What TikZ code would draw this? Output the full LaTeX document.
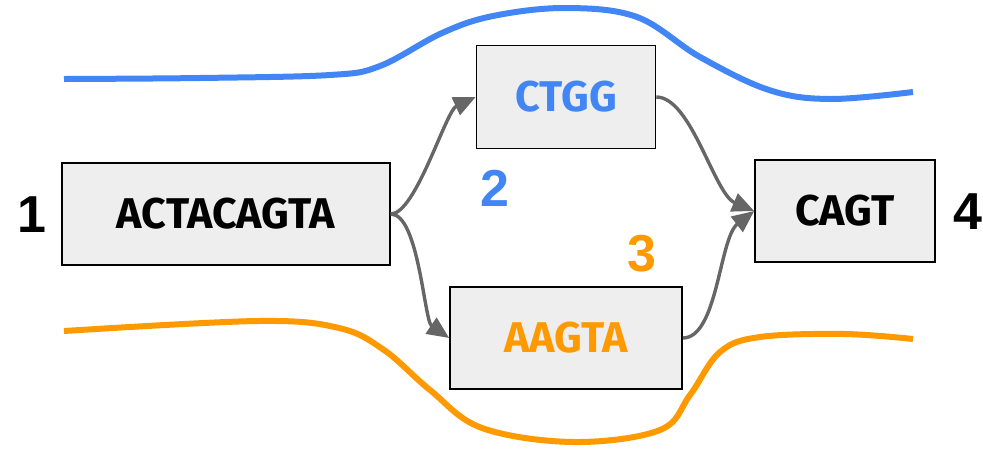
\documentclass[tikz,border=0pt]{standalone}
\usepackage{fontspec}
\setmainfont{Fira Sans}
\newfontfamily\numfont{Liberation Sans}
\usetikzlibrary{arrows.meta}
\definecolor{gblue}{HTML}{4285F4}
\definecolor{gorange}{HTML}{FF9900}
\definecolor{boxgray}{HTML}{EEEEEE}
\definecolor{arrowgray}{HTML}{666666}
\tikzset{
  seqbox/.style={draw=black, line width=1.6pt, fill=boxgray, inner sep=0pt,
    font=\fontsize{43}{48}\selectfont\bfseries},
  numlabel/.style={font=\fontsize{52}{56}\selectfont\numfont\bfseries, inner sep=0pt},
  conn/.style={draw=arrowgray, line width=3.4pt, -{Triangle[length=22pt,width=19pt]}},
  wave/.style={line width=6pt, line cap=butt}
}
\begin{document}
\begin{tikzpicture}[x=1pt,y=-1pt]
\useasboundingbox (0,0) rectangle (983,448);
% curves
\draw[wave, draw=gblue] plot[smooth, tension=0.6] coordinates {(64,79) (200,78) (330,75) (380,66) (442,33) (493,16) (565,8) (637,17) (700,57) (769,90) (830,99) (913,92)};
\draw[wave, draw=gorange] plot[smooth, tension=0.6] coordinates {(64,331) (258,321) (339,328) (384,350) (430,390) (482,428) (574,442) (660,430) (690,395) (720,352) (760,337) (844,334) (913,339)};
% boxes
\node[seqbox, minimum width=328pt, minimum height=102pt] (b1) at (226,214) {ACTACAGTA};
\node[seqbox, minimum width=179pt, minimum height=103pt, text=gblue] (b2) at (566,97) {CTGG};
\node[seqbox, minimum width=232pt, minimum height=102pt, text=gorange] (b3) at (566,338) {AAGTA};
\node[seqbox, minimum width=180pt, minimum height=102pt] (b4) at (845,211) {CAGT};
% numbers
\node[numlabel] (n1) at (32,215) {1};
\node[numlabel, text=gblue] (n2) at (495,188) {2};
\node[numlabel, text=gorange] (n3) at (642,254) {3};
\node[numlabel] (n4) at (968,212) {4};
% connectors
\draw[conn] (b1.east) .. controls +(25,0) and +(-30,14) .. (b2.west);
\draw[conn] (b1.east) .. controls +(28,0) and +(-25,-17) .. (b3.west);
\draw[conn] (b2.east) .. controls +(35,0) and +(-40,-17) .. (b4.west);
\draw[conn] (b3.east) .. controls +(35,0) and +(-35,27) .. (b4.west);
\end{tikzpicture}
\end{document}
